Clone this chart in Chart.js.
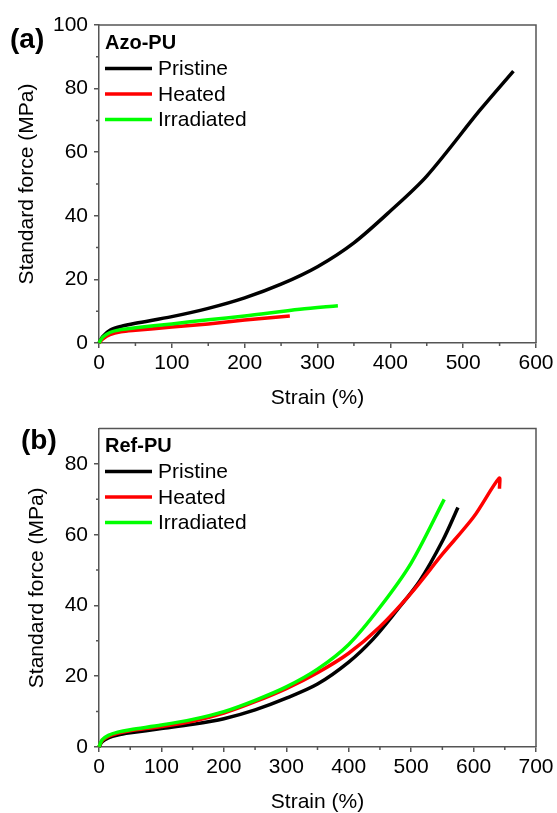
<!DOCTYPE html>
<html lang="en">
<head>
<meta charset="UTF-8">
<title>Stress-strain curves Azo-PU / Ref-PU</title>
<style>
    body { margin: 0; background: #ffffff; }
    .panel { position: absolute; left: 0; }
    #panelA { top: 0; }
    #panelB { top: 410px; }
</style>
</head>
<body>
<div class="panel" id="panelA"><canvas id="chartA" width="557" height="410"></canvas></div>
<div class="panel" id="panelB"><canvas id="chartB" width="557" height="403"></canvas></div>

<script src="https://cdn.jsdelivr.net/npm/chart.js@4.4.3/dist/chart.umd.min.js"></script>
<script>
// ---- data (strain %, force MPa) ----
const seriesNames = ['Pristine', 'Heated', 'Irradiated'];
const seriesColors = ['#000000', '#ff0000', '#00ff00'];

// (a) Azo-PU
const azoPristineStrain = [0, 5, 15, 30, 50, 100, 150, 200, 250, 300, 350, 400, 450, 523, 569];
const azoPristineForce  = [0, 2.0, 4.0, 5.2, 6.2, 8.3, 10.9, 14.2, 18.5, 24.0, 31.5, 41.5, 52.5, 73.2, 85.5];
const azoHeatedStrain = [0, 5, 15, 30, 50, 100, 150, 200, 262];
const azoHeatedForce  = [0, 1.2, 2.6, 3.5, 4.0, 5.0, 6.0, 7.2, 8.5];
const azoIrradStrain = [0, 5, 15, 30, 50, 100, 150, 200, 276, 328];
const azoIrradForce  = [0, 1.8, 3.3, 4.2, 4.8, 6.0, 7.3, 8.5, 10.6, 11.7];

// (b) Ref-PU
const refPristineStrain = [0, 5, 15, 30, 50, 100, 150, 200, 250, 300, 350, 400, 439, 477, 514, 551, 575];
const refPristineForce  = [0, 1.5, 2.6, 3.4, 4.0, 5.2, 6.4, 8.0, 10.5, 13.8, 17.8, 24.0, 30.5, 38.6, 47.0, 58.5, 67.7];
const refHeatedStrain = [0, 5, 15, 30, 50, 100, 150, 200, 250, 300, 350, 400, 450, 500, 550, 600, 641, 641.5];
const refHeatedForce  = [0, 1.8, 3.0, 3.9, 4.6, 5.8, 7.3, 9.6, 12.8, 16.5, 21.0, 26.5, 34.0, 43.5, 54.5, 65.0, 76.0, 73.0];
const refIrradStrain = [0, 5, 15, 30, 50, 100, 150, 200, 250, 300, 350, 400, 450, 500, 553];
const refIrradForce  = [0, 2.0, 3.3, 4.2, 4.9, 6.2, 7.8, 10.0, 13.2, 17.0, 22.0, 29.0, 39.5, 52.0, 70.0];

const axisColor = '#555555';
const fontFamily = "'Liberation Sans', Arial, sans-serif";

function toPoints(xs, ys) {
    return xs.map((x, i) => ({ x: x, y: ys[i] }));
}

function makeDatasets(pairs) {
    return pairs.map((p, i) => ({
        label: seriesNames[i],
        data: toPoints(p[0], p[1]),
        borderColor: seriesColors[i],
        backgroundColor: seriesColors[i],
        borderWidth: 3.5,
        pointRadius: 0,
        showLine: true,
        fill: false,
        tension: 0.3,
        clip: false,
        order: 3 - i
    }));
}

// box frame, minor ticks, legend and panel letter
const decorPlugin = {
    id: 'decor',
    afterDraw(chart, args, o) {
        const { ctx, chartArea: a, scales: { x, y } } = chart;
        ctx.save();
        ctx.strokeStyle = axisColor;
        ctx.lineWidth = 1.5;
        ctx.beginPath();
        ctx.moveTo(a.left, a.top);
        ctx.lineTo(a.right, a.top);
        ctx.lineTo(a.right, a.bottom);
        ctx.stroke();

        // minor ticks
        ctx.beginPath();
        for (let v = o.xMinor; v < x.max; v += o.xMinor * 2) {
            const px = x.getPixelForValue(v);
            ctx.moveTo(px, a.bottom);
            ctx.lineTo(px, a.bottom + 3);
        }
        for (let v = o.yMinor; v < y.max; v += o.yMinor * 2) {
            const py = y.getPixelForValue(v);
            ctx.moveTo(a.left, py);
            ctx.lineTo(a.left - 3, py);
        }
        ctx.stroke();

        // panel letter
        ctx.fillStyle = '#000';
        ctx.textBaseline = 'middle';
        ctx.textAlign = 'left';
        ctx.font = 'bold 28px ' + fontFamily;
        ctx.fillText(o.letter, o.letterX, o.letterY);

        // legend
        ctx.font = 'bold 20px ' + fontFamily;
        ctx.fillText(o.title, a.left + 6, o.legendY);
        ctx.font = '21px ' + fontFamily;
        chart.data.datasets.forEach((ds, i) => {
            const ly = o.legendY + 25.5 * (i + 1);
            ctx.strokeStyle = ds.borderColor;
            ctx.lineWidth = 3.5;
            ctx.beginPath();
            ctx.moveTo(a.left + 6, ly);
            ctx.lineTo(a.left + 53, ly);
            ctx.stroke();
            ctx.fillStyle = '#000';
            ctx.fillText(ds.label, a.left + 59, ly + 1);
        });
        ctx.restore();
    }
};

function makeChart(id, datasets, cfg) {
    return new Chart(document.getElementById(id), {
        type: 'scatter',
        data: { datasets: datasets },
        options: {
            responsive: false,
            animation: false,
            layout: { padding: { top: cfg.padTop, right: 21, left: 0, bottom: 0 } },
            plugins: {
                legend: { display: false },
                tooltip: { enabled: false },
                decor: cfg.decor
            },
            scales: {
                x: {
                    type: 'linear',
                    min: 0,
                    max: cfg.xMax,
                    afterFit: s => { s.height = cfg.xHeight; },
                    ticks: {
                        stepSize: 100,
                        color: '#000',
                        padding: 3,
                        maxRotation: 0,
                        font: { family: fontFamily, size: 21 }
                    },
                    grid: { drawOnChartArea: false, drawTicks: true, tickLength: 5, color: axisColor, lineWidth: 1.5 },
                    border: { color: axisColor, width: 1.5 },
                    title: {
                        display: true,
                        text: 'Strain (%)',
                        color: '#000',
                        font: { family: fontFamily, size: 21, lineHeight: 1 },
                        padding: { top: 0, bottom: cfg.xTitlePad }
                    }
                },
                y: {
                    type: 'linear',
                    min: 0,
                    max: cfg.yMax,
                    afterFit: s => { s.width = 99; },
                    afterBuildTicks: s => { s.ticks = s.ticks.filter(t => t.value % 20 === 0); },
                    ticks: {
                        stepSize: 20,
                        color: '#000',
                        padding: 6,
                        font: { family: fontFamily, size: 21 }
                    },
                    grid: { drawOnChartArea: false, drawTicks: true, tickLength: 5, color: axisColor, lineWidth: 1.5 },
                    border: { color: axisColor, width: 1.5 },
                    title: {
                        display: true,
                        text: 'Standard force (MPa)',
                        color: '#000',
                        font: { family: fontFamily, size: 21, lineHeight: 1 },
                        padding: { top: cfg.yTitlePad, bottom: 0 }
                    }
                }
            }
        },
        plugins: [decorPlugin]
    });
}

makeChart('chartA', makeDatasets([
    [azoPristineStrain, azoPristineForce],
    [azoHeatedStrain, azoHeatedForce],
    [azoIrradStrain, azoIrradForce]
]), {
    padTop: 25, xHeight: 67, xMax: 600, yMax: 100,
    xTitlePad: 1, yTitlePad: 17,
    decor: { xMinor: 50, yMinor: 10, letter: '(a)', letterX: 10, letterY: 40, title: 'Azo-PU', legendY: 43 }
});

makeChart('chartB', makeDatasets([
    [refPristineStrain, refPristineForce],
    [refHeatedStrain, refHeatedForce],
    [refIrradStrain, refIrradForce]
]), {
    padTop: 18, xHeight: 66, xMax: 700, yMax: 90,
    xTitlePad: 0, yTitlePad: 27,
    decor: { xMinor: 50, yMinor: 10, letter: '(b)', letterX: 21, letterY: 31, title: 'Ref-PU', legendY: 36 }
});
</script>
</body>
</html>
